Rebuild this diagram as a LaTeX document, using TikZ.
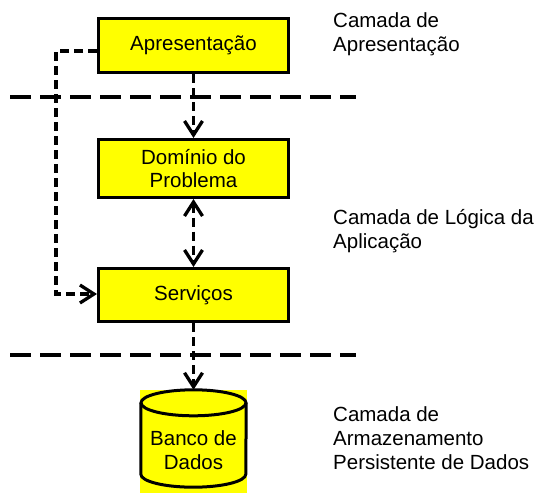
\documentclass[tikz,border=0pt]{standalone}
\usepackage{fontspec}
\setmainfont{Liberation Sans}
\usetikzlibrary{arrows.meta}
\definecolor{boxyellow}{RGB}{255,255,0}
\begin{document}
\begin{tikzpicture}[x=1pt,y=-1pt,
  layerbox/.style={draw=black, line width=3pt, fill=boxyellow, minimum width=190pt, inner sep=0pt, align=center, font=\fontsize{20.5}{23.5}\selectfont},
  layerline/.style={line width=3.8pt, dash pattern=on 21pt off 9pt},
  conn/.style={line width=3.3pt, dash pattern=on 9pt off 5pt, -{Straight Barb[length=14pt,width=18pt]}},
  biconn/.style={line width=3.3pt, dash pattern=on 9pt off 5pt, {Straight Barb[length=14pt,width=18pt]}-{Straight Barb[length=14pt,width=18pt]}},
  layerlabel/.style={anchor=north west, align=left, inner sep=0pt, font=\fontsize{20.5}{24}\selectfont}
]
\useasboundingbox[fill=white] (0,0) rectangle (536,493);

% layer separators
\coordinate (l1a) at (10,97);
\coordinate (l1b) at (356,97);
\coordinate (l2a) at (10,355);
\coordinate (l2b) at (356,355);
\draw[layerline] (l1a) -- (l1b);
\draw[layerline] (l2a) -- (l2b);

% boxes
\node[layerbox, minimum height=54pt] (apr) at (193.5,45.5) {Apresentação};
\node[layerbox, minimum height=58pt] (dom) at (193.5,168.5) {Domínio do\\Problema};
\node[layerbox, minimum height=53pt] (serv) at (193.5,295) {Serviços};

% database cylinder
\fill[boxyellow] (140,390) rectangle (247,493);
\node[minimum width=105pt, minimum height=97pt, inner sep=0pt] (db) at (193.5,438.5) {};
\draw[line width=3pt]
  ([yshift=-13pt]db.north) ellipse [x radius=52.5pt, y radius=13pt];
\draw[line width=3pt]
  ([yshift=-13pt]db.north west) -- ([yshift=13pt]db.south west)
  arc[start angle=180, end angle=360, x radius=52.5pt, y radius=13pt]
  -- ([yshift=-13pt]db.north east);
\node[align=center, inner sep=0pt, font=\fontsize{20.5}{24}\selectfont] (dbt) at (193.5,450) {Banco de\\Dados};

% connectors
\draw[conn] (apr.south) -- (dom.north);
\draw[biconn] (dom.south) -- (serv.north);
\draw[conn] (serv.south) -- (db.north);
\coordinate (lc1) at (56,51);
\coordinate (lc2) at (56,294);
\draw[conn] ([yshift=-5.5pt]apr.west) -- (lc1) -- (lc2) -- ([yshift=1pt]serv.west);

% labels
\node[layerlabel] (lab1) at (333,12) {Camada de\\Apresentação};
\node[layerlabel] (lab2) at (333,209) {Camada de Lógica da\\Aplicação};
\node[layerlabel] (lab3) at (333,406) {Camada de\\Armazenamento\\Persistente de Dados};
\end{tikzpicture}
\end{document}
